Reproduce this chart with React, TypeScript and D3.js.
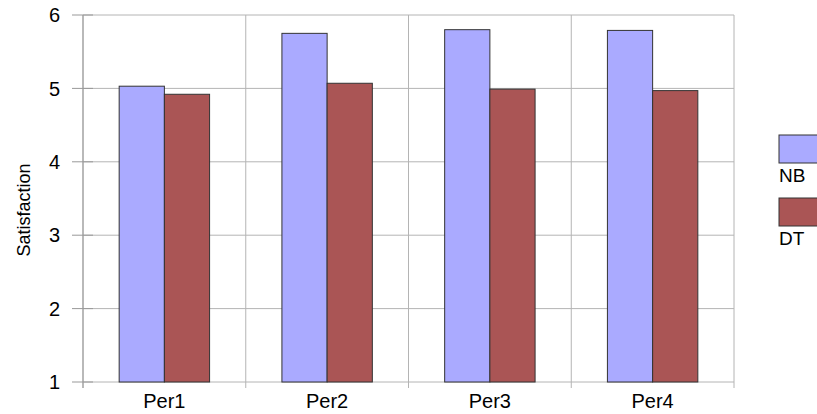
import React from "react";
import * as d3 from "d3";

const categories = ["Per1", "Per2", "Per3", "Per4"];
const seriesNames = ["NB", "DT"];
const nbValues = [5.03, 5.75, 5.8, 5.79];
const dtValues = [4.92, 5.07, 4.99, 4.97];
const yTicks = [1, 2, 3, 4, 5, 6];
const colors = ["#aaaaff", "#aa5555"];

const W = 817;
const H = 414;
const FONT = "'Liberation Sans', Arial, sans-serif";

export default function App() {
  const left = 83;
  const right = 734;
  const top = 15;
  const bottom = 382;
  const y = d3.scaleLinear().domain([1, 6]).range([bottom, top]);
  const x = d3.scaleBand<string>().domain(categories).range([left, right]).padding(0);
  const inner = d3
    .scaleBand<string>()
    .domain(seriesNames)
    .range([0, x.bandwidth()])
    .paddingInner(0)
    .paddingOuter(0.8);
  const series = [nbValues, dtValues];
  const boundaries = categories.map((c) => x(c) as number).concat([right]);

  return (
    <div style={{ position: "fixed", left: 0, top: 0 }}>
      <svg width={W} height={H} style={{ display: "block", background: "#fff" }}>
        {/* horizontal grid */}
        {yTicks.map((t) => (
          <line key={"h" + t} x1={left} x2={right} y1={y(t)} y2={y(t)} stroke="#b4b4b4" strokeWidth={1} />
        ))}
        {/* vertical grid */}
        {boundaries.map((b, i) => (
          <line key={"v" + i} x1={b} x2={b} y1={top} y2={bottom + 6} stroke="#b4b4b4" strokeWidth={1} />
        ))}
        {/* y ticks */}
        {yTicks.map((t) => (
          <line key={"t" + t} x1={72} x2={left + 10} y1={y(t)} y2={y(t)} stroke="#999" strokeWidth={1} />
        ))}
        {/* axis line */}
        <line x1={left} x2={left} y1={top} y2={bottom + 6} stroke="#999" strokeWidth={1} />
        {/* bars */}
        {series.map((vals, si) =>
          categories.map((c, ci) => {
            const bx = (x(c) as number) + (inner(seriesNames[si]) as number);
            return (
              <rect
                key={si + "-" + ci}
                x={bx}
                y={y(vals[ci])}
                width={inner.bandwidth()}
                height={y(1) - y(vals[ci])}
                fill={colors[si]}
                stroke="#333"
                strokeWidth={1}
              />
            );
          })
        )}
        {/* y tick labels */}
        {yTicks.map((t) => (
          <text
            key={"l" + t}
            x={60}
            y={y(t)}
            dy="0.36em"
            textAnchor="end"
            fontFamily={FONT}
            fontSize={20}
            fill="#000"
          >
            {t}
          </text>
        ))}
        {/* category labels */}
        {categories.map((c) => (
          <text
            key={"c" + c}
            x={(x(c) as number) + x.bandwidth() / 2}
            y={408}
            textAnchor="middle"
            fontFamily={FONT}
            fontSize={20}
            fill="#000"
          >
            {c}
          </text>
        ))}
        {/* y label */}
        <text
          transform={`translate(30,210) rotate(-90)`}
          textAnchor="middle"
          fontFamily={FONT}
          fontSize={18}
          fill="#000"
        >
          Satisfaction
        </text>
        {/* legend */}
        {seriesNames.map((s, i) => (
          <g key={"lg" + s} transform={`translate(779,${135 + i * 63})`}>
            <rect x={0} y={0} width={45} height={28} fill={colors[i]} stroke="#333" strokeWidth={1} />
            <text x={0} y={47} fontFamily={FONT} fontSize={19} fill="#000">
              {s}
            </text>
          </g>
        ))}
      </svg>
    </div>
  );
}
